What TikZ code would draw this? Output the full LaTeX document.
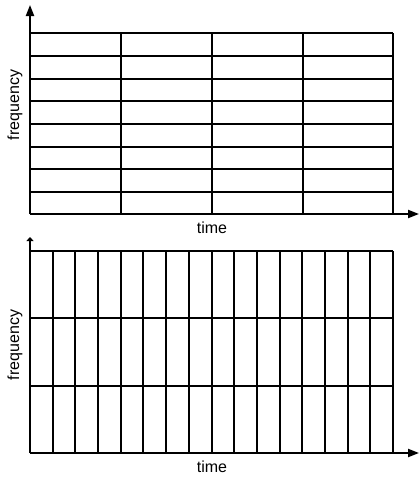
\documentclass[tikz,border=0pt]{standalone}
\usepackage{fontspec}
\setmainfont{Liberation Sans}
\usetikzlibrary{arrows.meta}
\begin{document}
\begin{tikzpicture}[x=1pt,y=-1pt,
  gridline/.style={line width=2pt,black},
  axisline/.style={line width=2pt,black},
  bigtip/.style={-{Triangle[length=11pt,width=8pt]}},
  smalltip/.style={-{Triangle[length=4pt,width=7pt]}},
  axlabel/.style={font=\fontsize{16}{19}\selectfont,inner sep=0pt}]
\useasboundingbox (0,0) rectangle (419,479);
% ---- top panel ----
\foreach \y in {33,56,79,101,124,147,169,192} {
  \draw[gridline] (30,\y) -- (393,\y);
}
\foreach \x in {121,212,303,393} {
  \draw[gridline] (\x,33) -- (\x,214);
}
\coordinate (o1) at (30,214);
\coordinate (y1) at (30,5);
\coordinate (x1) at (419,214);
\draw[axisline,bigtip] (o1) -- (y1);
\draw[axisline,bigtip] (o1) -- (x1);
\node[axlabel,rotate=90] (f1) at (15,105) {frequency};
\node[axlabel] (t1) at (212,228) {time};
% ---- bottom panel ----
\foreach \y in {251,318,386} {
  \draw[gridline] (30,\y) -- (393,\y);
}
\foreach \x in {53,75,98,121,143,166,189,212,234,257,280,302,325,348,370,393} {
  \draw[gridline] (\x,251) -- (\x,453);
}
\coordinate (o2) at (30,453);
\coordinate (y2) at (30,237);
\coordinate (x2) at (419,453);
\draw[axisline,smalltip] (o2) -- (y2);
\draw[axisline,bigtip] (o2) -- (x2);
\node[axlabel,rotate=90] (f2) at (15,345) {frequency};
\node[axlabel] (t2) at (212,467) {time};
\end{tikzpicture}
\end{document}
